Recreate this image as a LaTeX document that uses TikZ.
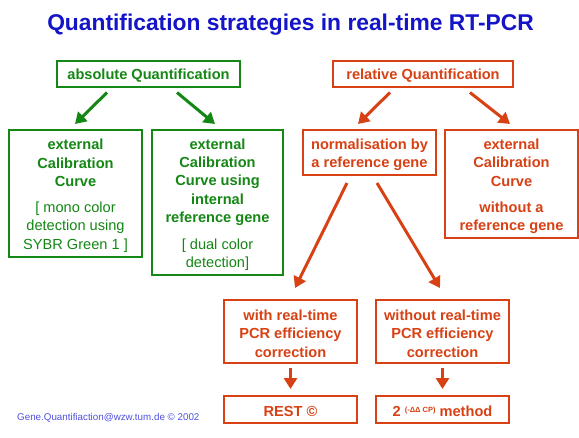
\documentclass[tikz,border=0pt]{standalone}
\usepackage{fontspec}
\setmainfont{Liberation Sans}
\usetikzlibrary{arrows.meta}
\definecolor{gr}{RGB}{20,135,20}
\definecolor{rd}{RGB}{215,65,20}
\definecolor{tb}{RGB}{20,20,200}
\definecolor{ft}{RGB}{80,80,225}
\newcommand\tp{\rule{0pt}{15pt}}
\begin{document}
\begin{tikzpicture}[x=1pt,y=-1pt,
 gbox/.style={draw=gr,line width=2pt,text=gr,inner sep=0pt,align=center,
   font=\fontsize{14.6}{18.4}\selectfont\bfseries},
 rbox/.style={gbox,draw=rd,text=rd},
 garr/.style={draw=gr,line width=3pt,-{Triangle[width=13pt,length=11pt]}},
 rarr/.style={garr,draw=rd},
]
\useasboundingbox[fill=white] (0,0) rectangle (579,437);
\node[font=\fontsize{22.8}{27}\selectfont\bfseries,text=tb,anchor=base,inner sep=0pt] (title) at (290.5,30) {Quantification strategies in real-time RT-PCR};

\node[gbox,minimum width=183pt,minimum height=26pt] (abs) at (148.5,73.5) {\tp absolute Quantification};
\node[rbox,minimum width=180pt,minimum height=26pt] (rel) at (423,73.5) {\tp relative Quantification};

\node[gbox,minimum width=133pt,minimum height=127pt] (ext1) at (75.5,193.5)
 {\tp external\\Calibration\\Curve\\[7.5pt]\mdseries [ mono color\\ \mdseries detection using\\ \mdseries SYBR Green 1 ]};
\node[gbox,minimum width=131pt,minimum height=145pt] (ext2) at (217.5,202.5)
 {\tp external\\Calibration\\Curve using\\internal\\reference gene\\[8.5pt]\mdseries [ dual color\\ \mdseries detection]};
\node[rbox,minimum width=133pt,minimum height=45pt] (norm) at (369.5,152.5)
 {\tp normalisation by\\a reference gene};
\node[rbox,minimum width=133pt,minimum height=108pt] (redext) at (511.5,184)
 {\tp external\\Calibration\\Curve\\[7.5pt]without a\\reference gene};
\node[rbox,minimum width=133pt,minimum height=63pt] (with) at (290.5,331.5)
 {\tp with real-time\\PCR efficiency\\correction};
\node[rbox,minimum width=133pt,minimum height=63pt] (without) at (442.5,331.5)
 {\tp without real-time\\PCR efficiency\\correction};
\node[rbox,minimum width=133pt,minimum height=27pt] (rest) at (290.5,409.5) {\tp REST ©};
\node[rbox,minimum width=133pt,minimum height=27pt] (ddct) at (442.5,409.5)
 {\tp 2 \raisebox{4.5pt}{\fontsize{7.5}{8}\selectfont (-ΔΔ CP)} method};

\node[anchor=west,text=ft,font=\fontsize{9.8}{11}\selectfont,inner sep=0pt] (foot) at (17,418) {Gene.Quantifiaction@wzw.tum.de © 2002};

\draw[garr] ([xshift=-41.5pt,yshift=-5pt]abs.south) -- ([xshift=-0.5pt,yshift=5pt]ext1.north);
\draw[garr] ([xshift=28.5pt,yshift=-5pt]abs.south) -- ([xshift=-2.5pt,yshift=5pt]ext2.north);
\draw[rarr] ([xshift=-33pt,yshift=-5pt]rel.south) -- ([xshift=-11.5pt,yshift=5pt]norm.north);
\draw[rarr] ([xshift=47pt,yshift=-5pt]rel.south) -- ([xshift=-1.5pt,yshift=5pt]redext.north);
\draw[rarr] ([xshift=-22.5pt,yshift=-7pt]norm.south) -- ([xshift=4.5pt,yshift=11pt]with.north);
\draw[rarr] ([xshift=7.5pt,yshift=-7pt]norm.south) -- ([xshift=-2.5pt,yshift=11pt]without.north);
\draw[rarr] ([yshift=-4pt]with.south) -- ([yshift=6pt]rest.north);
\draw[rarr] ([yshift=-4pt]without.south) -- ([yshift=6pt]ddct.north);
\end{tikzpicture}
\end{document}
